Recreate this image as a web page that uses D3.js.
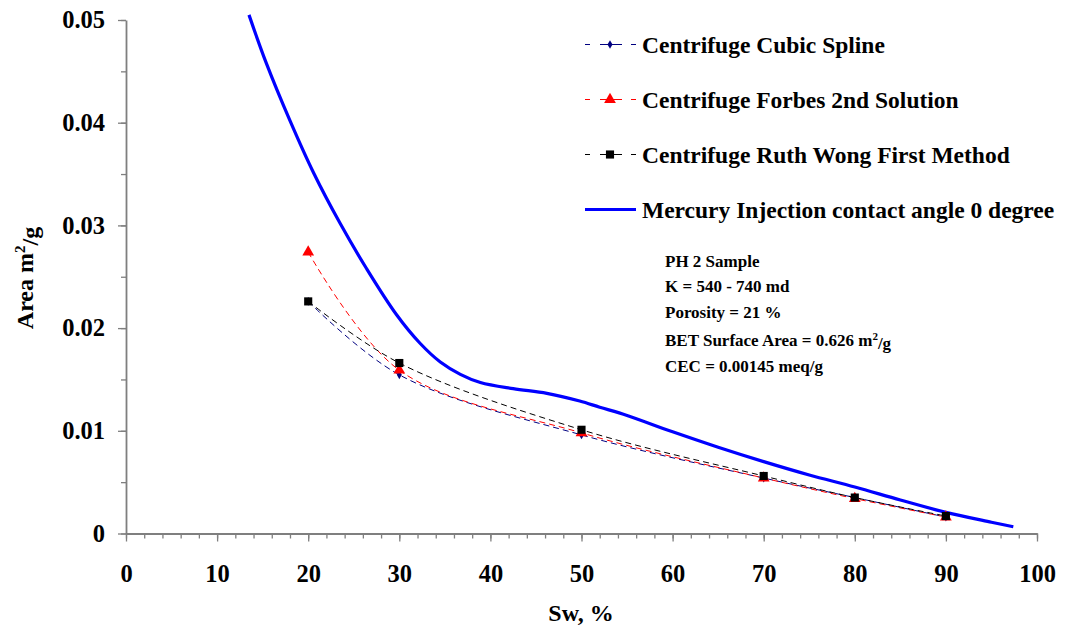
<!DOCTYPE html>
<html>
<head>
<meta charset="utf-8">
<script src="https://cdn.jsdelivr.net/npm/d3@7"></script>
<style>
  body { margin: 0; background: #fff; }
  svg text { font-family: "Liberation Serif", "Times New Roman", serif; font-weight: bold; fill: #000; }
</style>
</head>
<body>
<svg id="chart" width="1065" height="631"></svg>
<script>
// Sw (%) sampled in the centrifuge runs
var swPoints = [20, 30, 50, 70, 80, 90];

var cubicSpline = [0.0226, 0.01545, 0.0096, 0.0054, 0.0035, 0.0016];
var forbes2nd   = [0.0274, 0.0159, 0.0098, 0.0054, 0.0034, 0.0016];
var ruthWong    = [0.0226, 0.0166, 0.0101, 0.0056, 0.0035, 0.0017];

// mercury injection curve
var mercurySw   = [13.5, 15.4, 18.0, 20.6, 23.5, 26.4, 29.7, 32.3, 34.5, 36.7, 38.9, 42.5,
                   46.2, 49.8, 52.0, 55, 60, 65, 70, 75, 80, 85, 90, 95, 97.4];
var mercuryArea = [0.0505, 0.0458, 0.0402, 0.0351, 0.0302, 0.0258, 0.0213, 0.0185, 0.0167,
                   0.0155, 0.0147, 0.0141, 0.01365, 0.0129, 0.0123, 0.0115, 0.0099, 0.0084,
                   0.0070, 0.0057, 0.00453, 0.00326, 0.00206, 0.0011, 0.00066];

var xTicks = [0, 10, 20, 30, 40, 50, 60, 70, 80, 90, 100];
var yTicks = [0, 0.01, 0.02, 0.03, 0.04, 0.05];

var legendLabels = [
  'Centrifuge Cubic Spline',
  'Centrifuge Forbes 2nd Solution',
  'Centrifuge Ruth Wong First Method',
  'Mercury Injection contact angle 0 degree'
];

var fontFamily = '"Liberation Serif", "Times New Roman", serif';

var svg = d3.select('#chart');

var x = d3.scaleLinear().domain([0, 100]).range([126, 1037]);
var y = d3.scaleLinear().domain([0, 0.05]).range([533.5, 20]);

var axisColor = '#7f7f7f';

// minor ticks first, then major axes on top
svg.append('g')
  .attr('transform', 'translate(0,' + y(0) + ')')
  .call(d3.axisBottom(x).tickValues(d3.range(0, 101, 2)).tickSize(5).tickFormat(''))
  .call(function(g){ g.select('.domain').remove(); });

svg.append('g')
  .attr('transform', 'translate(' + x(0) + ',0)')
  .call(d3.axisLeft(y).tickValues(d3.range(0, 0.0501, 0.005)).tickSize(5).tickFormat(''))
  .call(function(g){ g.select('.domain').remove(); });

svg.append('g')
  .attr('transform', 'translate(0,' + y(0) + ')')
  .call(d3.axisBottom(x).tickValues(xTicks).tickSize(8).tickSizeOuter(0).tickPadding(23));

svg.append('g')
  .attr('transform', 'translate(' + x(0) + ',0)')
  .call(d3.axisLeft(y).tickValues(yTicks).tickSize(8).tickSizeOuter(0).tickPadding(13)
    .tickFormat(function(d){ return d === 0 ? '0' : d3.format('.2f')(d); }));

svg.selectAll('g').attr('font-family', fontFamily);
svg.selectAll('.tick line').attr('stroke', axisColor).attr('stroke-width', 1.3);
svg.selectAll('.domain').attr('stroke', axisColor).attr('stroke-width', 1.8);
svg.selectAll('.tick text')
  .attr('fill', '#000')
  .style('font-family', fontFamily)
  .style('font-weight', 'bold')
  .style('font-size', '24.5px');

// axis titles
svg.append('text')
  .attr('x', 581).attr('y', 621)
  .attr('text-anchor', 'middle')
  .style('font-size', '24px')
  .text('Sw, %');

var yTitle = svg.append('text')
  .attr('transform', 'translate(33,278) rotate(-90)')
  .attr('text-anchor', 'middle')
  .style('font-size', '24px');
yTitle.append('tspan').text('Area m');
yTitle.append('tspan').attr('dy', '-0.55em').style('font-size', '15px').text('2');
yTitle.append('tspan').attr('dy', '0.55em').text('/g');

// series
var series = [
  { name: legendLabels[0], values: cubicSpline, color: '#000080', marker: 'diamond' },
  { name: legendLabels[1], values: forbes2nd,   color: '#ff0000', marker: 'triangle' },
  { name: legendLabels[2], values: ruthWong,    color: '#000000', marker: 'square' }
];

var symbolType = { diamond: d3.symbolDiamond, triangle: d3.symbolTriangle, square: d3.symbolSquare };
var symbolSize = { diamond: 22, triangle: 60, square: 66 };

var lineGen = d3.line()
  .x(function(d){ return x(d[0]); })
  .y(function(d){ return y(d[1]); })
  .curve(d3.curveCatmullRom.alpha(0.5));

// mercury line
var mercury = mercurySw.map(function(s, i){ return [s, mercuryArea[i]]; });
svg.append('path')
  .datum(mercury)
  .attr('fill', 'none')
  .attr('stroke', '#0000ff')
  .attr('stroke-width', 3.2)
  .attr('stroke-linejoin', 'round')
  .attr('d', lineGen);

series.forEach(function(s){
  var pts = swPoints.map(function(sw, i){ return [sw, s.values[i]]; });
  svg.append('path')
    .datum(pts)
    .attr('fill', 'none')
    .attr('stroke', s.color)
    .attr('stroke-width', 1)
    .attr('stroke-dasharray', '6,4')
    .attr('d', lineGen);
});

// markers drawn on top, black last so it covers the others
series.forEach(function(s){
  svg.append('g').selectAll('path')
    .data(swPoints.map(function(sw, i){ return [sw, s.values[i]]; }))
    .enter().append('path')
    .attr('transform', function(d){ return 'translate(' + x(d[0]) + ',' + y(d[1]) + ')'; })
    .attr('d', d3.symbol().type(symbolType[s.marker]).size(symbolSize[s.marker]))
    .attr('fill', s.color);
});

// legend
var legend = svg.append('g');
legendLabels.forEach(function(label, i){
  var ly = 44.5 + i * 55;
  var row = legend.append('g').attr('transform', 'translate(0,' + ly + ')');
  if (i < 3) {
    var s = series[i];
    row.append('line')
      .attr('x1', 585).attr('x2', 636).attr('y1', 0).attr('y2', 0)
      .attr('stroke', s.color).attr('stroke-width', 1)
      .attr('stroke-dasharray', '5,10,22,9,5');
    row.append('path')
      .attr('transform', 'translate(610,0)')
      .attr('d', d3.symbol().type(symbolType[s.marker]).size(symbolSize[s.marker]))
      .attr('fill', s.color);
  } else {
    row.append('line')
      .attr('x1', 585).attr('x2', 636).attr('y1', 0).attr('y2', 0)
      .attr('stroke', '#0000ff').attr('stroke-width', 3.2);
  }
  row.append('text')
    .attr('x', 642).attr('y', 8.5)
    .style('font-size', '23.5px')
    .text(label);
});

// sample annotation
var noteLines = ['PH 2 Sample', 'K = 540 - 740 md', 'Porosity = 21 %', null, 'CEC = 0.00145 meq/g'];
var noteY = [267, 292, 318, 346, 372];
noteLines.forEach(function(t, i){
  var txt = svg.append('text')
    .attr('x', 665).attr('y', noteY[i])
    .style('font-size', '17px');
  if (t) {
    txt.text(t);
  } else {
    txt.append('tspan').text('BET Surface Area = 0.626 m');
    txt.append('tspan').attr('dy', '-0.55em').style('font-size', '11px').text('2');
    txt.append('tspan').attr('dy', '0.55em').text('/g');
  }
});
</script>
</body>
</html>
